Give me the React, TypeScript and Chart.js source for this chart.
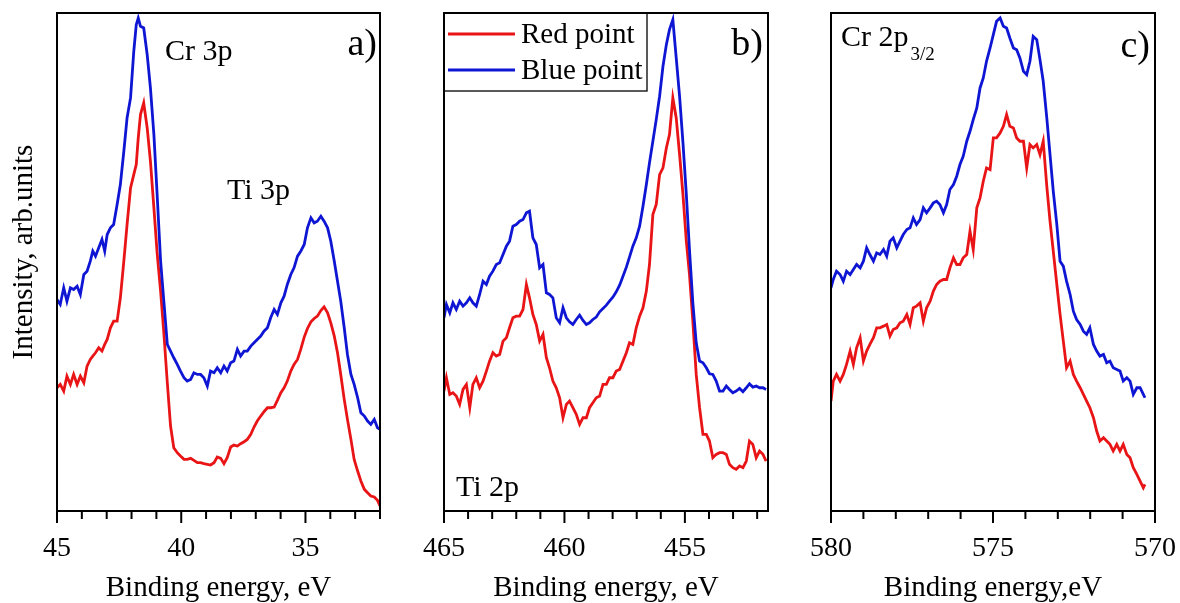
import React, { useEffect, useRef } from 'react';
import { Chart, registerables } from 'chart.js';

Chart.register(...registerables);

const W = 1180;
const H = 603;
const SERIF = '"Liberation Serif", "Times New Roman", serif';
const RED = 'rgb(232, 20, 22)';
const BLUE = 'rgb(14, 22, 212)';
const seriesLabels = ['Red point', 'Blue point'];

// ---------- Panel a : Cr 3p / Ti 3p ----------
const energyA = [
  45.0, 44.87, 44.73, 44.60, 44.46, 44.33, 44.19, 44.06, 43.92, 43.79,
  43.66, 43.56, 43.45, 43.32, 43.19, 43.08, 42.98, 42.85, 42.72, 42.58,
  42.45, 42.31, 42.18, 42.04, 41.91, 41.81, 41.73, 41.64, 41.51, 41.37,
  41.24, 41.10, 40.97, 40.83, 40.70, 40.56, 40.43, 40.30, 40.16, 40.03,
  39.89, 39.76, 39.62, 39.49, 39.35, 39.22, 39.09, 38.95, 38.82, 38.68,
  38.55, 38.41, 38.28, 38.15, 38.01, 37.88, 37.74, 37.61, 37.47, 37.34,
  37.20, 37.07, 36.94, 36.80, 36.67, 36.53, 36.40, 36.26, 36.13, 35.99,
  35.86, 35.73, 35.59, 35.46, 35.32, 35.19, 35.05, 34.92, 34.78, 34.65,
  34.52, 34.38, 34.25, 34.11, 33.98, 33.84, 33.71, 33.58, 33.44, 33.31,
  33.17, 33.04, 32.90, 32.77, 32.63, 32.50, 32.37, 32.23, 32.10, 32.0,
];
const blueA = [
  63.5, 62.0, 67.0, 63.0, 67.0, 66.5, 67.5, 65.0, 71.0, 72.0,
  75.0, 78.0, 76.5, 79.0, 81.5, 78.0, 83.0, 85.0, 86.0, 92.0,
  98.0, 108.0, 118.0, 124.0, 138.0, 146.0, 148.0, 145.5, 145.0, 137.0,
  127.0, 113.0, 95.0, 75.0, 63.0, 50.0, 48.0, 46.0, 44.0, 42.0,
  40.0, 39.0, 39.5, 41.5, 41.0, 41.0, 40.0, 37.5, 42.0, 41.5,
  43.0, 41.5, 43.5, 42.0, 44.5, 45.0, 48.5, 46.5, 48.0, 48.0,
  49.5, 50.5, 51.5, 52.5, 54.0, 55.0, 58.0, 60.5, 59.0, 62.5,
  64.5, 68.0, 71.0, 73.0, 76.5, 78.0, 80.0, 85.0, 88.0, 86.5,
  87.0, 88.5, 87.0, 85.0, 81.0, 75.0, 69.0, 63.0, 55.0, 47.0,
  41.0, 38.0, 34.0, 29.5, 28.5, 27.0, 26.0, 27.5, 25.0, 24.5,
];
const redA = [
  37.0, 38.0, 36.0, 40.5, 38.0, 41.0, 38.0, 40.5, 38.5, 43.5,
  45.5, 46.5, 47.5, 49.0, 48.0, 50.0, 51.5, 55.0, 57.0, 57.0,
  64.0, 75.0, 86.0, 97.0, 101.0, 104.0, 112.0, 119.0, 122.5, 115.0,
  105.0, 91.0, 77.5, 66.0, 53.5, 38.5, 25.5, 19.0, 17.5, 16.5,
  15.5, 15.5, 15.8, 15.2, 14.5, 14.5, 14.2, 14.0, 13.8, 14.5,
  16.2, 15.8, 14.2, 16.0, 19.2, 19.8, 19.5, 20.2, 20.8, 21.5,
  23.0, 25.2, 27.0, 28.5, 29.8, 31.0, 31.0, 31.2, 33.2, 35.5,
  37.0, 39.0, 42.0, 44.0, 45.5, 48.5, 52.2, 54.8, 56.8, 57.8,
  58.5, 60.2, 61.3, 59.5, 56.5, 52.5, 47.5, 41.0, 33.5, 27.5,
  21.5, 15.5, 12.0, 9.0, 6.5, 5.5, 4.5, 4.2, 3.2, 1.5,
];
const ticksA = [45, 40, 35];

// ---------- Panel b : Ti 2p ----------
const energyB = [
  465.00, 464.90, 464.76, 464.63, 464.49, 464.35, 464.21, 464.07, 463.93, 463.80,
  463.66, 463.52, 463.38, 463.24, 463.11, 462.97, 462.83, 462.69, 462.55, 462.41,
  462.28, 462.14, 462.00, 461.86, 461.72, 461.58, 461.45, 461.31, 461.17, 461.03,
  460.89, 460.75, 460.62, 460.48, 460.34, 460.20, 460.06, 459.92, 459.79, 459.65,
  459.51, 459.37, 459.23, 459.09, 458.96, 458.82, 458.68, 458.54, 458.40, 458.26,
  458.13, 457.99, 457.85, 457.71, 457.57, 457.43, 457.30, 457.16, 457.02, 456.88,
  456.74, 456.60, 456.47, 456.33, 456.19, 456.05, 455.91, 455.77, 455.64, 455.50,
  455.36, 455.22, 455.08, 454.94, 454.81, 454.67, 454.53, 454.39, 454.25, 454.11,
  453.98, 453.84, 453.70, 453.56, 453.42, 453.28, 453.15, 453.01, 452.87, 452.73,
  452.59, 452.45, 452.32, 452.18, 452.04, 451.90, 451.76, 451.63,
];
const blueB = [
  58.0, 62.0, 59.5, 62.5, 60.5, 63.0, 61.5, 62.5, 64.0, 62.5,
  61.5, 65.0, 69.0, 68.0, 70.5, 72.0, 74.0, 74.5, 77.0, 79.5,
  81.0, 85.5, 86.0, 87.0, 87.5, 89.5, 90.0, 82.0, 80.0, 73.0,
  74.0, 65.5, 65.0, 64.0, 58.0, 56.5, 61.0, 58.0, 56.8, 56.0,
  57.5, 58.8, 57.2, 56.0, 56.5, 57.5, 58.2, 59.8, 60.8, 61.8,
  63.0, 64.2, 65.8, 67.8, 70.5, 73.2, 76.2, 79.5, 82.0, 85.5,
  91.5, 98.0, 104.5, 111.0, 117.5, 124.5, 133.5, 140.0, 144.5, 147.5,
  136.0, 124.5, 110.5, 95.0, 78.5, 62.5, 50.5, 45.0, 44.5, 43.0,
  41.2, 41.0, 39.0, 36.0, 36.0, 37.5, 36.5, 35.5, 36.0, 36.8,
  35.8, 37.0, 38.2, 37.2, 37.5, 37.0, 37.0, 36.5,
];
const redB = [
  36.0, 40.0, 35.0, 35.5, 34.5, 32.0, 36.5, 38.0, 31.0, 38.0,
  40.0, 37.0, 39.0, 42.0, 45.0, 47.5, 46.5, 47.0, 51.0, 52.0,
  55.0, 58.0, 58.5, 58.5, 60.5, 68.0, 64.0, 59.0, 56.0, 51.0,
  53.0, 46.0, 43.0, 39.0, 37.0, 34.0, 28.0, 32.0, 33.0, 31.0,
  29.0, 26.0, 28.0, 28.0, 31.0, 32.5, 34.0, 34.5, 38.0, 38.0,
  40.0, 40.0, 42.0, 42.5, 45.0, 47.5, 50.5, 50.0, 55.0, 58.5,
  61.0, 66.0, 74.0, 89.0, 92.0, 101.0, 103.0, 109.0, 113.0, 124.0,
  118.0, 107.0, 95.0, 81.0, 71.0, 57.0, 41.0, 31.0, 23.0, 23.0,
  21.0, 16.0, 17.0, 17.5, 17.5, 17.0, 14.0, 13.0, 12.5, 13.5,
  13.0, 15.0, 21.0, 20.0, 16.0, 18.0, 17.0, 15.0,
];
const ticksB = [465, 460, 455];

// ---------- Panel c : Cr 2p3/2 ----------
const energyC = [
  580.00, 579.93, 579.83, 579.72, 579.62, 579.52, 579.41, 579.31, 579.21, 579.10,
  579.00, 578.90, 578.80, 578.69, 578.59, 578.49, 578.38, 578.28, 578.18, 578.08,
  577.97, 577.87, 577.77, 577.66, 577.56, 577.46, 577.36, 577.25, 577.15, 577.05,
  576.94, 576.84, 576.74, 576.64, 576.53, 576.43, 576.33, 576.22, 576.12, 576.02,
  575.92, 575.81, 575.71, 575.61, 575.50, 575.40, 575.30, 575.20, 575.09, 574.99,
  574.89, 574.78, 574.68, 574.58, 574.48, 574.37, 574.27, 574.17, 574.06, 573.96,
  573.86, 573.76, 573.65, 573.55, 573.45, 573.34, 573.24, 573.14, 573.03, 572.93,
  572.83, 572.73, 572.62, 572.52, 572.42, 572.31, 572.21, 572.11, 572.01, 571.90,
  571.80, 571.70, 571.59, 571.49, 571.39, 571.29, 571.18, 571.08, 570.98, 570.87,
  570.77, 570.67, 570.56, 570.46, 570.36, 570.31,
];
const blueC = [
  67.0, 69.5, 72.0, 71.0, 69.0, 72.0, 71.0, 72.5, 74.0, 73.0,
  75.0, 79.0, 77.0, 75.0, 77.5, 77.0, 78.5, 76.5, 81.0, 82.0,
  79.0, 81.0, 83.0, 84.5, 85.0, 88.0, 86.0, 87.5, 91.0, 89.5,
  91.0, 92.5, 93.0, 92.0, 89.5, 92.0, 96.5, 98.0, 100.5, 104.0,
  106.5, 111.0, 114.0, 117.5, 121.0, 127.0, 130.0, 135.0, 139.0, 143.0,
  147.0, 148.0, 145.5, 145.0, 142.0, 139.0, 138.5, 136.0, 132.0, 131.0,
  135.0, 142.5, 141.5, 135.5, 129.0, 118.0, 107.0, 96.0, 86.0, 75.0,
  73.5, 69.0, 65.0, 60.0, 57.5, 56.0, 54.0, 53.0, 55.0, 50.0,
  48.0, 46.5, 47.0, 44.5, 45.0, 43.0, 42.5, 42.0, 39.0, 40.0,
  39.0, 35.0, 37.0, 37.0, 35.0, 34.0,
];
const redC = [
  33.0, 39.0, 41.0, 39.0, 41.0, 44.0, 48.0, 44.0, 49.0, 52.0,
  45.0, 48.0, 50.0, 52.0, 55.0, 55.0, 55.5, 56.0, 52.5, 54.5,
  55.0, 56.5, 57.0, 59.0, 56.0, 61.0, 61.5, 62.5, 57.0, 61.0,
  63.0, 66.0, 68.0, 69.0, 69.5, 69.5, 73.0, 76.0, 74.0, 74.0,
  76.0, 77.0, 84.0, 78.5, 91.0, 94.0, 99.0, 103.0, 102.5, 112.0,
  112.0, 113.5, 115.5, 119.0, 115.5, 115.0, 112.0, 111.0, 111.0, 103.0,
  110.0, 109.0, 110.0, 107.0, 111.0, 97.5, 87.0, 78.0, 68.0, 59.0,
  51.0, 43.0, 45.0, 41.0, 39.0, 37.0, 35.0, 33.0, 31.0, 28.0,
  24.0, 21.0, 22.0, 21.0, 20.0, 18.0, 20.0, 18.0, 20.0, 17.0,
  16.0, 13.0, 11.0, 9.0, 7.0, 8.0,
];
const ticksC = [580, 575, 570];

const yRange = [0, 149.5];

type Label = { text: string; dx: number; dy: number; size: number; align?: CanvasTextAlign; sub?: string };

type PanelCfg = {
  energy: number[];
  red: number[];
  blue: number[];
  xMin: number;
  xMax: number;
  majors: number[];
  left: number;
  right: number;
  title: string;
  labels: Label[];
  legend: boolean;
  yTitle?: string;
};

const panels: PanelCfg[] = [
  {
    energy: energyA, red: redA, blue: blueA, xMin: 32, xMax: 45, majors: ticksA,
    left: 57, right: 380, title: 'Binding energy, eV', legend: false,
    yTitle: 'Intensity, arb.units',
    labels: [
      { text: 'Cr 3p', dx: 108, dy: 47, size: 30 },
      { text: 'Ti 3p', dx: 170, dy: 186, size: 30 },
      { text: 'a)', dx: 320, dy: 42, size: 38, align: 'right' },
    ],
  },
  {
    energy: energyB, red: redB, blue: blueB, xMin: 451.55, xMax: 465, majors: ticksB,
    left: 444, right: 768, title: 'Binding energy, eV', legend: true,
    labels: [
      { text: 'b)', dx: 319, dy: 42, size: 38, align: 'right' },
      { text: 'Ti 2p', dx: 12, dy: 483, size: 30 },
    ],
  },
  {
    energy: energyC, red: redC, blue: blueC, xMin: 570, xMax: 580, majors: ticksC,
    left: 831, right: 1155, title: 'Binding energy,eV', legend: false,
    labels: [
      { text: 'c)', dx: 319, dy: 44, size: 38, align: 'right' },
      { text: 'Cr 2p', dx: 10, dy: 33, size: 30, sub: '3/2' },
    ],
  },
];

function makeDecor(p: PanelCfg) {
  return {
    id: 'decor',
    afterDraw(chart: any) {
      const { ctx, chartArea: ca, scales } = chart;
      const x = scales.x;
      ctx.save();
      // frame
      ctx.strokeStyle = '#000';
      ctx.lineWidth = 2;
      ctx.strokeRect(ca.left, ca.top, ca.right - ca.left, ca.bottom - ca.top);
      // major & minor ticks
      for (let v = Math.ceil(x.min); v <= Math.floor(x.max); v++) {
        const px = x.getPixelForValue(v);
        const len = v % 5 === 0 ? 12 : 8;
        ctx.beginPath();
        ctx.moveTo(px, ca.bottom);
        ctx.lineTo(px, ca.bottom + len);
        ctx.stroke();
      }
      // annotations
      ctx.fillStyle = '#000';
      ctx.textBaseline = 'alphabetic';
      for (const l of p.labels) {
        ctx.font = `${l.size}px ${SERIF}`;
        ctx.textAlign = l.align || 'left';
        const tx = ca.left + l.dx;
        const ty = ca.top + l.dy;
        ctx.fillText(l.text, tx, ty);
        if (l.sub) {
          const w = ctx.measureText(l.text).width;
          ctx.font = `19px ${SERIF}`;
          ctx.fillText(l.sub, tx + w + 2, ty + 14);
        }
      }
      // legend
      if (p.legend) {
        const lw = 203;
        const lh = 78;
        ctx.lineWidth = 1.3;
        ctx.strokeStyle = '#000';
        ctx.strokeRect(ca.left, ca.top, lw, lh);
        const rows = [ca.top + 21, ca.top + 57];
        const colors = [RED, BLUE];
        chart.data.datasets.forEach((ds: any) => {
          const idx = seriesLabels.indexOf(ds.label);
          const ry = rows[idx];
          ctx.strokeStyle = colors[idx];
          ctx.lineWidth = 2.8;
          ctx.beginPath();
          ctx.moveTo(ca.left + 4, ry);
          ctx.lineTo(ca.left + 71, ry);
          ctx.stroke();
          ctx.fillStyle = '#000';
          ctx.font = `29px ${SERIF}`;
          ctx.textAlign = 'left';
          ctx.textBaseline = 'middle';
          ctx.fillText(ds.label, ca.left + 77, ry + 1);
        });
      }
      // y title
      if (p.yTitle) {
        ctx.save();
        ctx.translate(24, 252);
        ctx.rotate(-Math.PI / 2);
        ctx.font = `29px ${SERIF}`;
        ctx.fillStyle = '#000';
        ctx.textAlign = 'center';
        ctx.textBaseline = 'middle';
        ctx.fillText(p.yTitle, 0, 0);
        ctx.restore();
      }
      ctx.restore();
    },
  };
}

function buildChart(canvas: HTMLCanvasElement, p: PanelCfg) {
  const toPts = (ys: number[]) => p.energy.map((e, i) => ({ x: e, y: ys[i] }));
  return new Chart(canvas, {
    type: 'line',
    data: {
      datasets: [
        {
          label: seriesLabels[0],
          data: toPts(p.red),
          borderColor: RED,
          backgroundColor: RED,
          borderWidth: 2.8,
          pointRadius: 0,
          tension: 0,
          order: 1,
        },
        {
          label: seriesLabels[1],
          data: toPts(p.blue),
          borderColor: BLUE,
          backgroundColor: BLUE,
          borderWidth: 2.8,
          pointRadius: 0,
          tension: 0,
          order: 0,
        },
      ],
    },
    options: {
      animation: false,
      responsive: false,
      devicePixelRatio: 1,
      parsing: false as any,
      layout: {
        autoPadding: false,
        padding: { left: p.left, right: W - p.right, top: 13, bottom: 0 },
      },
      plugins: {
        legend: { display: false },
        tooltip: { enabled: false },
      },
      scales: {
        x: {
          type: 'linear',
          min: p.xMin,
          max: p.xMax,
          reverse: true,
          afterBuildTicks: (s: any) => {
            s.ticks = p.majors.map((v) => ({ value: v }));
          },
          afterFit: (s: any) => {
            s.height = H - 511;
            s.paddingLeft = 0;
            s.paddingRight = 0;
          },
          ticks: {
            autoSkip: false,
            maxRotation: 0,
            minRotation: 0,
            padding: 13,
            color: '#000',
            font: { family: SERIF, size: 28 },
          },
          grid: { display: false },
          border: { display: false },
          title: {
            display: true,
            text: p.title,
            color: '#000',
            font: { family: SERIF, size: 29 },
            padding: { top: 0, bottom: -3 },
          },
        },
        y: {
          display: false,
          min: yRange[0],
          max: yRange[1],
        },
      },
    } as any,
    plugins: [makeDecor(p)],
  });
}

export default function App() {
  const refs = [useRef<HTMLCanvasElement>(null), useRef<HTMLCanvasElement>(null), useRef<HTMLCanvasElement>(null)];
  useEffect(() => {
    const charts = panels.map((p, i) => buildChart(refs[i].current as HTMLCanvasElement, p));
    return () => charts.forEach((c) => c.destroy());
  }, []);
  return (
    <div style={{ position: 'absolute', left: 0, top: 0, width: W, height: H, background: '#fff', overflow: 'hidden' }}>
      {panels.map((_, i) => (
        <canvas
          key={i}
          ref={refs[i]}
          width={W}
          height={H}
          style={{ position: 'absolute', left: 0, top: 0, width: W, height: H }}
        />
      ))}
    </div>
  );
}
